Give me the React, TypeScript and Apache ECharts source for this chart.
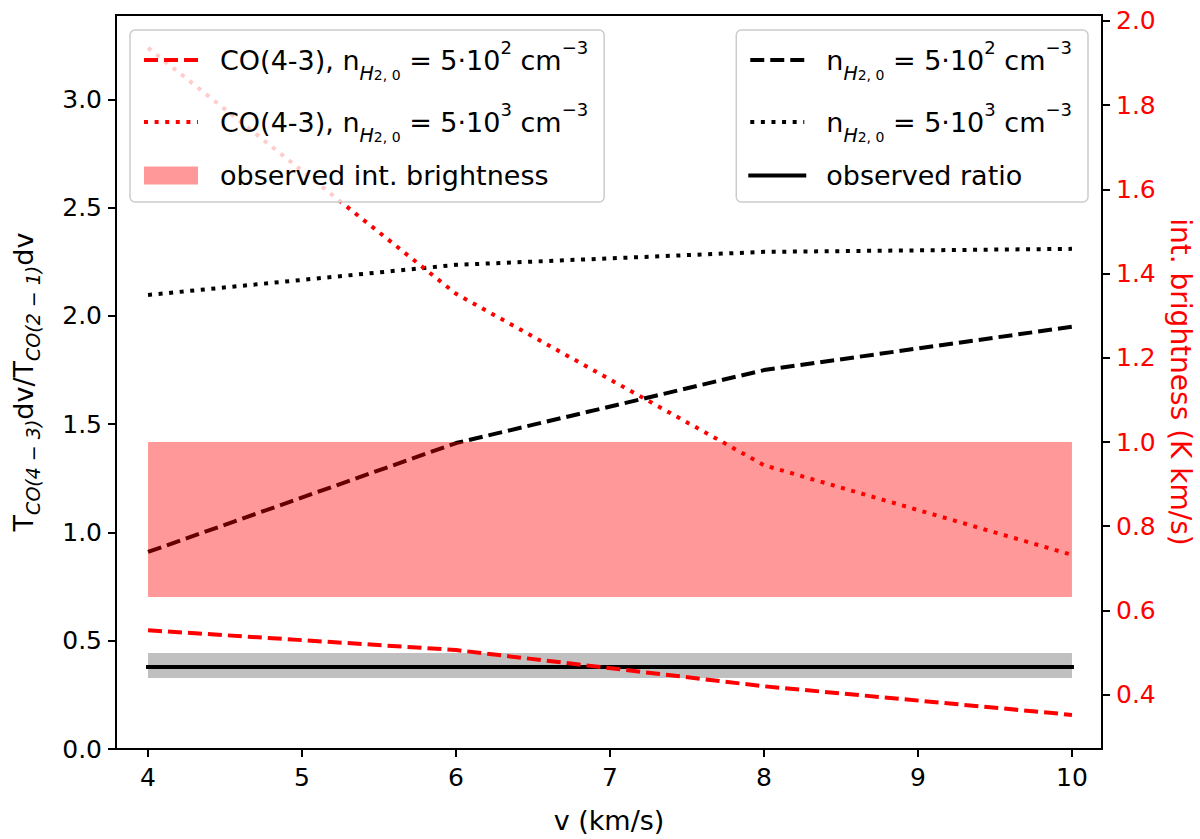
import React, { useEffect, useRef } from 'react'
import * as echarts from 'echarts'

// v (km/s) of the model grid
const velocity = [4, 6, 8, 10]
// CO(4-3) int. brightness (K km/s), right axis
const coLowDensity = [0.553, 0.506, 0.42, 0.352]
const coHighDensity = [1.936, 1.352, 0.945, 0.732]
// CO(4-3)/CO(2-1) ratio, left axis
const ratioLowDensity = [0.91, 1.413, 1.75, 1.95]
const ratioHighDensity = [2.097, 2.236, 2.296, 2.31]
// observations
const observedRatio = 0.379
const observedRatioRange = [0.328, 0.443]
const observedBrightnessRange = [0.632, 1.0]

const xTicks = [4, 5, 6, 7, 8, 9, 10]
const leftTicks = [0, 0.5, 1, 1.5, 2, 2.5, 3]
const rightTicks = [0.4, 0.6, 0.8, 1.0, 1.2, 1.4, 1.6, 1.8, 2.0]

const FONT = 'DejaVu Sans'

const names = {
  coLow: 'CO(4-3), nH2,0 = 5·10² cm⁻³',
  coHigh: 'CO(4-3), nH2,0 = 5·10³ cm⁻³',
  band: 'observed int. brightness',
  ratioLow: 'nH2,0 = 5·10² cm⁻³',
  ratioHigh: 'nH2,0 = 5·10³ cm⁻³',
  ratio: 'observed ratio',
}

const dens = (e: string) =>
  `{sub|H}{ss|2, 0}{n| = 5·10}{sup|${e}}{n| cm}{sup|−3}`

const legendText: Record<string, string> = {
  [names.coLow]: `{f|CO(4-3), n}` + dens('2'),
  [names.coHigh]: `{f|CO(4-3), n}` + dens('3'),
  [names.band]: `{p|observed int. brightness}`,
  [names.ratioLow]: `{f|n}` + dens('2'),
  [names.ratioHigh]: `{f|n}` + dens('3'),
  [names.ratio]: `{p|observed ratio}`,
}

const legendRich = {
  f: { fontSize: 27, lineHeight: 44, padding: [0, 0, 0, 17], color: '#000', fontFamily: FONT },
  n: { fontSize: 27, lineHeight: 44, color: '#000', fontFamily: FONT },
  sup: { fontSize: 18, lineHeight: 36, verticalAlign: 'top', color: '#000', fontFamily: FONT },
  sub: { fontSize: 19, lineHeight: 22, fontStyle: 'italic', verticalAlign: 'bottom', color: '#000', fontFamily: FONT },
  ss: { fontSize: 14, lineHeight: 9, verticalAlign: 'bottom', color: '#000', fontFamily: FONT },
  p: { fontSize: 27, lineHeight: 32, padding: [0, 0, 0, 17], color: '#000', fontFamily: FONT },
}

const noSymbol = { color: 'rgba(0,0,0,0)', opacity: 0, borderWidth: 0 }

const legendBase = {
  orient: 'vertical',
  top: 30,
  itemWidth: 54,
  itemHeight: 18,
  itemGap: 18,
  padding: [8, 16, 13, 12],
  backgroundColor: 'rgba(255,255,255,0.8)',
  borderColor: '#cccccc',
  borderWidth: 1.5,
  borderRadius: 5,
  selectedMode: false,
  lineStyle: { width: 4 },
  formatter: (name: string) => legendText[name] || name,
  textStyle: { color: '#000', fontSize: 27, fontFamily: FONT, rich: legendRich },
}

const pairs = (ys: number[]) => velocity.map((v, i) => [v, ys[i]])

const bandItem = (color: string) => (params: any, api: any) => {
  const p0 = api.coord([api.value(0), api.value(3)])
  const p1 = api.coord([api.value(1), api.value(2)])
  return {
    type: 'rect',
    shape: { x: p0[0], y: p0[1], width: p1[0] - p0[0], height: p1[1] - p0[1] },
    style: { fill: color },
  }
}

const tickStyle = { show: true, length: 8, lineStyle: { color: '#000', width: 2 } }
const axisLine = { show: true, lineStyle: { color: '#000', width: 2 } }

function App() {
  const chartRef = useRef<HTMLDivElement>(null)

  useEffect(() => {
    const chart = echarts.init(chartRef.current as HTMLDivElement, undefined, { renderer: 'svg' })
    const first = velocity[0]
    const last = velocity[velocity.length - 1]
    const option: any = {
      animation: false,
      backgroundColor: '#fff',
      textStyle: { fontFamily: FONT },
      grid: {
        left: 116, right: 98, top: 15, bottom: 90,
        show: true, borderColor: '#000', borderWidth: 2,
        outerBoundsMode: 'none',
      },
      legend: [
        {
          ...legendBase,
          left: 130,
          data: [
            { name: names.coLow, itemStyle: noSymbol },
            { name: names.coHigh, itemStyle: noSymbol },
            { name: names.band, icon: 'rect' },
          ],
        },
        {
          ...legendBase,
          right: 112,
          data: [
            { name: names.ratioLow, itemStyle: noSymbol },
            { name: names.ratioHigh, itemStyle: noSymbol },
            { name: names.ratio, itemStyle: noSymbol },
          ],
        },
      ],
      xAxis: {
        type: 'value',
        min: 3.792,
        max: 10.195,
        axisLine,
        axisTick: { ...tickStyle, customValues: xTicks },
        axisLabel: { customValues: xTicks, color: '#000', fontSize: 25, margin: 16, fontFamily: FONT },
        splitLine: { show: false },
        name: 'v (km/s)',
        nameLocation: 'middle',
        nameGap: 58,
        nameTextStyle: { color: '#000', fontSize: 27, fontFamily: FONT },
      },
      yAxis: [
        {
          type: 'value',
          position: 'left',
          min: 0,
          max: 3.39,
          axisLine,
          axisTick: { ...tickStyle, customValues: leftTicks },
          axisLabel: {
            customValues: leftTicks, color: '#000', fontSize: 25, margin: 14, fontFamily: FONT,
            formatter: (v: number) => v.toFixed(1),
          },
          splitLine: { show: false },
          name: '{n|T}{sub|CO(4 − 3)}{n|dv/T}{sub|CO(2 − 1)}{n|dv}',
          nameLocation: 'middle',
          nameRotate: 90,
          nameGap: 74,
          nameTextStyle: {
            color: '#000',
            fontFamily: FONT,
            rich: {
              n: { fontSize: 27, lineHeight: 38, color: '#000', fontFamily: FONT },
              sub: { fontSize: 19, lineHeight: 20, fontStyle: 'italic', verticalAlign: 'bottom', color: '#000', fontFamily: FONT },
            },
          },
        },
        {
          type: 'value',
          position: 'right',
          min: 0.271,
          max: 2.014,
          axisLine,
          axisTick: { ...tickStyle, customValues: rightTicks },
          axisLabel: {
            customValues: rightTicks, color: '#ff0000', fontSize: 25, margin: 14, fontFamily: FONT,
            formatter: (v: number) => v.toFixed(1),
          },
          splitLine: { show: false },
          name: 'int. brightness (K km/s)',
          nameLocation: 'middle',
          nameRotate: -90,
          nameGap: 60,
          nameTextStyle: { color: '#ff0000', fontSize: 28, fontFamily: FONT },
        },
      ],
      series: [
        {
          name: 'observed ratio range',
          type: 'custom',
          yAxisIndex: 0,
          z: 1,
          renderItem: bandItem('#c0c0c0'),
          encode: { x: [0, 1], y: [2, 3] },
          data: [[first, last, observedRatioRange[0], observedRatioRange[1]]],
        },
        {
          name: names.ratioLow,
          type: 'line',
          yAxisIndex: 0,
          symbol: 'none',
          z: 2,
          lineStyle: { color: '#000', width: 4, type: [14, 6] },
          itemStyle: { color: '#000' },
          data: pairs(ratioLowDensity),
        },
        {
          name: names.ratioHigh,
          type: 'line',
          yAxisIndex: 0,
          symbol: 'none',
          z: 2,
          lineStyle: { color: '#000', width: 4, type: [4, 6.6] },
          itemStyle: { color: '#000' },
          data: pairs(ratioHighDensity),
        },
        {
          name: names.ratio,
          type: 'line',
          yAxisIndex: 0,
          symbol: 'none',
          z: 2,
          lineStyle: { color: '#000', width: 4, cap: 'square' },
          itemStyle: { color: '#000' },
          data: [[first, observedRatio], [last, observedRatio]],
        },
        {
          name: names.coLow,
          type: 'line',
          yAxisIndex: 1,
          symbol: 'none',
          z: 2,
          lineStyle: { color: '#ff0000', width: 4, type: [14, 6] },
          itemStyle: { color: '#ff0000' },
          data: pairs(coLowDensity),
        },
        {
          name: names.coHigh,
          type: 'line',
          yAxisIndex: 1,
          symbol: 'none',
          z: 2,
          lineStyle: { color: '#ff0000', width: 4, type: [4, 6.6] },
          itemStyle: { color: '#ff0000' },
          data: pairs(coHighDensity),
        },
        {
          name: names.band,
          type: 'custom',
          yAxisIndex: 1,
          z: 3,
          renderItem: bandItem('rgba(255,0,0,0.4)'),
          itemStyle: { color: 'rgba(255,0,0,0.4)' },
          encode: { x: [0, 1], y: [2, 3] },
          data: [[first, last, observedBrightnessRange[0], observedBrightnessRange[1]]],
        },
      ],
    }
    chart.setOption(option)
    return () => {
      chart.dispose()
    }
  }, [])

  return (
    <div
      ref={chartRef}
      style={{ position: 'absolute', left: 0, top: 0, width: 1200, height: 839, background: '#fff' }}
    />
  )
}

export default App
